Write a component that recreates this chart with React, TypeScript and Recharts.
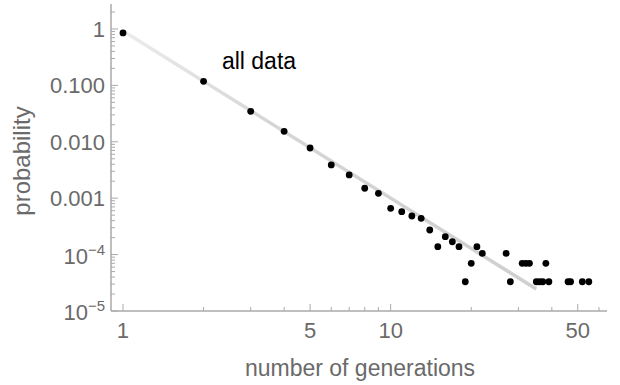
import React from "react";
import { ComposedChart, Scatter, Line, XAxis, YAxis } from "recharts";

// generations (x) and probabilities (y)
const generations = [1, 2, 3, 4, 5, 6, 7, 8, 9, 10, 11, 12, 13, 14, 15, 16, 17, 18, 19, 20, 21, 22, 27, 28, 31, 32, 33, 35, 36, 37, 38, 39, 46, 47, 52, 55];
const probabilities = [
  0.85, 0.118, 0.0347, 0.0153, 0.00776, 0.00388, 0.00258, 0.0015, 0.00122, 0.00066,
  0.000577, 0.000483, 0.00044, 0.000273, 0.000138, 0.000208, 0.000169, 0.000138, 0.000033, 0.00007,
  0.000138, 0.000105, 0.000105, 0.000033, 0.00007, 0.00007, 0.00007, 0.000033, 0.000033, 0.000033,
  0.00007, 0.000033, 0.000033, 0.000033, 0.000033, 0.000033,
];

// fitted power-law line endpoints
const fitX = [1, 35];
const fitY = [0.92, 0.0000245];

const xMajorTicks = [1, 5, 10, 50];
const xMinorTicks = [2, 3, 4, 6, 7, 8, 9, 20, 30, 40, 60];
const yMajorTicks = [1, 0.1, 0.01, 0.001, 0.0001, 0.00001];
const yMajorLabels = ["1", "0.100", "0.010", "0.001", "10|−4", "10|−5"];
const yMinorMultipliers = [2, 3, 4, 5, 6, 7, 8, 9];
const yMinorDecades = [0.00001, 0.0001, 0.001, 0.01, 0.1, 1];

const xLabel = "number of generations";
const yLabel = "probability";
const annotation = "all data";

const pointData = generations.map((g, i) => ({ x: g, y: probabilities[i] }));
const fitData = fitX.map((g, i) => ({ x: g, y: fitY[i] }));
const yMinorTicks: number[] = [];
yMinorDecades.forEach((d) => yMinorMultipliers.forEach((m) => {
  const v = m * d;
  if (v < 2.77) yMinorTicks.push(v);
}));
const xTicks = [...xMajorTicks, ...xMinorTicks].sort((a, b) => a - b);
const yTicks = [...yMajorTicks, ...yMinorTicks].sort((a, b) => a - b);

const AXIS = "#aaaaaa";
const TEXT = "#6a6a6a";
const FONT = "'Liberation Sans', Arial, sans-serif";

const isMajorX = (v: number) => xMajorTicks.some((t) => Math.abs(t - v) < 1e-9);
const majorYIndex = (v: number) => yMajorTicks.findIndex((t) => Math.abs(t - v) / t < 1e-6);

const XTick = (props: any) => {
  const { x, y, payload } = props;
  const v = payload.value;
  const major = isMajorX(v);
  return (
    <g>
      <line x1={x} x2={x} y1={y} y2={y - (major ? 7 : 4)} stroke={AXIS} strokeWidth={1} />
      {major && (
        <text x={x} y={y + 27} textAnchor="middle" fill={TEXT} fontSize={22} fontFamily={FONT}>
          {String(v)}
        </text>
      )}
    </g>
  );
};

const YTick = (props: any) => {
  const { x, y, payload } = props;
  const v = payload.value;
  const idx = majorYIndex(v);
  const major = idx >= 0;
  let label: React.ReactNode = null;
  if (major) {
    const lab = yMajorLabels[idx];
    if (lab.includes("|")) {
      const [base, exp] = lab.split("|");
      label = (
        <text x={x - 6} y={y + 9} textAnchor="end" fill={TEXT} fontSize={22} fontFamily={FONT}>
          {base}
          <tspan fontSize={15} dy={-9}>{exp}</tspan>
        </text>
      );
    } else {
      label = (
        <text x={x - 6} y={y + 8} textAnchor="end" fill={TEXT} fontSize={22} fontFamily={FONT}>
          {lab}
        </text>
      );
    }
  }
  return (
    <g>
      <line x1={x} x2={x + (major ? 7 : 4)} y1={y} y2={y} stroke={AXIS} strokeWidth={1} />
      {label}
    </g>
  );
};

const Dot = (props: any) => <circle cx={props.cx} cy={props.cy} r={3.4} fill="#000" />;

export default function App() {
  return (
    <div style={{ position: "absolute", left: 0, top: 0, width: 620, height: 385, background: "#fff" }}>
      <ComposedChart width={620} height={385} margin={{ top: 4, right: 13, bottom: 44, left: 51 }}>
        <defs>
          <linearGradient id="fitGrad" x1="0" y1="0" x2="1" y2="0">
            <stop offset="0%" stopColor="#ececec" />
            <stop offset="35%" stopColor="#d6d6d6" />
            <stop offset="100%" stopColor="#cfcfcf" />
          </linearGradient>
        </defs>
        <XAxis
          dataKey="x"
          type="number"
          scale="log"
          domain={[0.902, 64.3]}
          allowDataOverflow
          ticks={xTicks}
          interval={0}
          tickSize={0}
          tickMargin={0}
          tickLine={false}
          tick={<XTick />}
          axisLine={{ stroke: AXIS, strokeWidth: 1.5 }}
          height={30}
        />
        <YAxis
          dataKey="y"
          type="number"
          scale="log"
          domain={[0.00001, 2.77]}
          allowDataOverflow
          ticks={yTicks}
          interval={0}
          tickSize={0}
          tickMargin={0}
          tickLine={false}
          tick={<YTick />}
          axisLine={{ stroke: AXIS, strokeWidth: 1.5 }}
          width={60}
        />
        <Line
          data={fitData}
          dataKey="y"
          stroke="url(#fitGrad)"
          strokeWidth={3.5}
          dot={false}
          activeDot={false}
          isAnimationActive={false}
        />
        <Scatter data={pointData} dataKey="y" shape={<Dot />} isAnimationActive={false} />
      </ComposedChart>
      <svg width={620} height={385} style={{ position: "absolute", left: 0, top: 0, pointerEvents: "none" }}>
        <text x={259} y={69} textAnchor="middle" fill="#000" fontSize={23} fontFamily={FONT}>
          {annotation}
        </text>
        <text x={360} y={376} textAnchor="middle" fill={TEXT} fontSize={23} fontFamily={FONT}>
          {xLabel}
        </text>
        <text
          x={30}
          y={161}
          textAnchor="middle"
          fill={TEXT}
          fontSize={24}
          fontFamily={FONT}
          transform="rotate(-90 30 161)"
        >
          {yLabel}
        </text>
      </svg>
    </div>
  );
}
